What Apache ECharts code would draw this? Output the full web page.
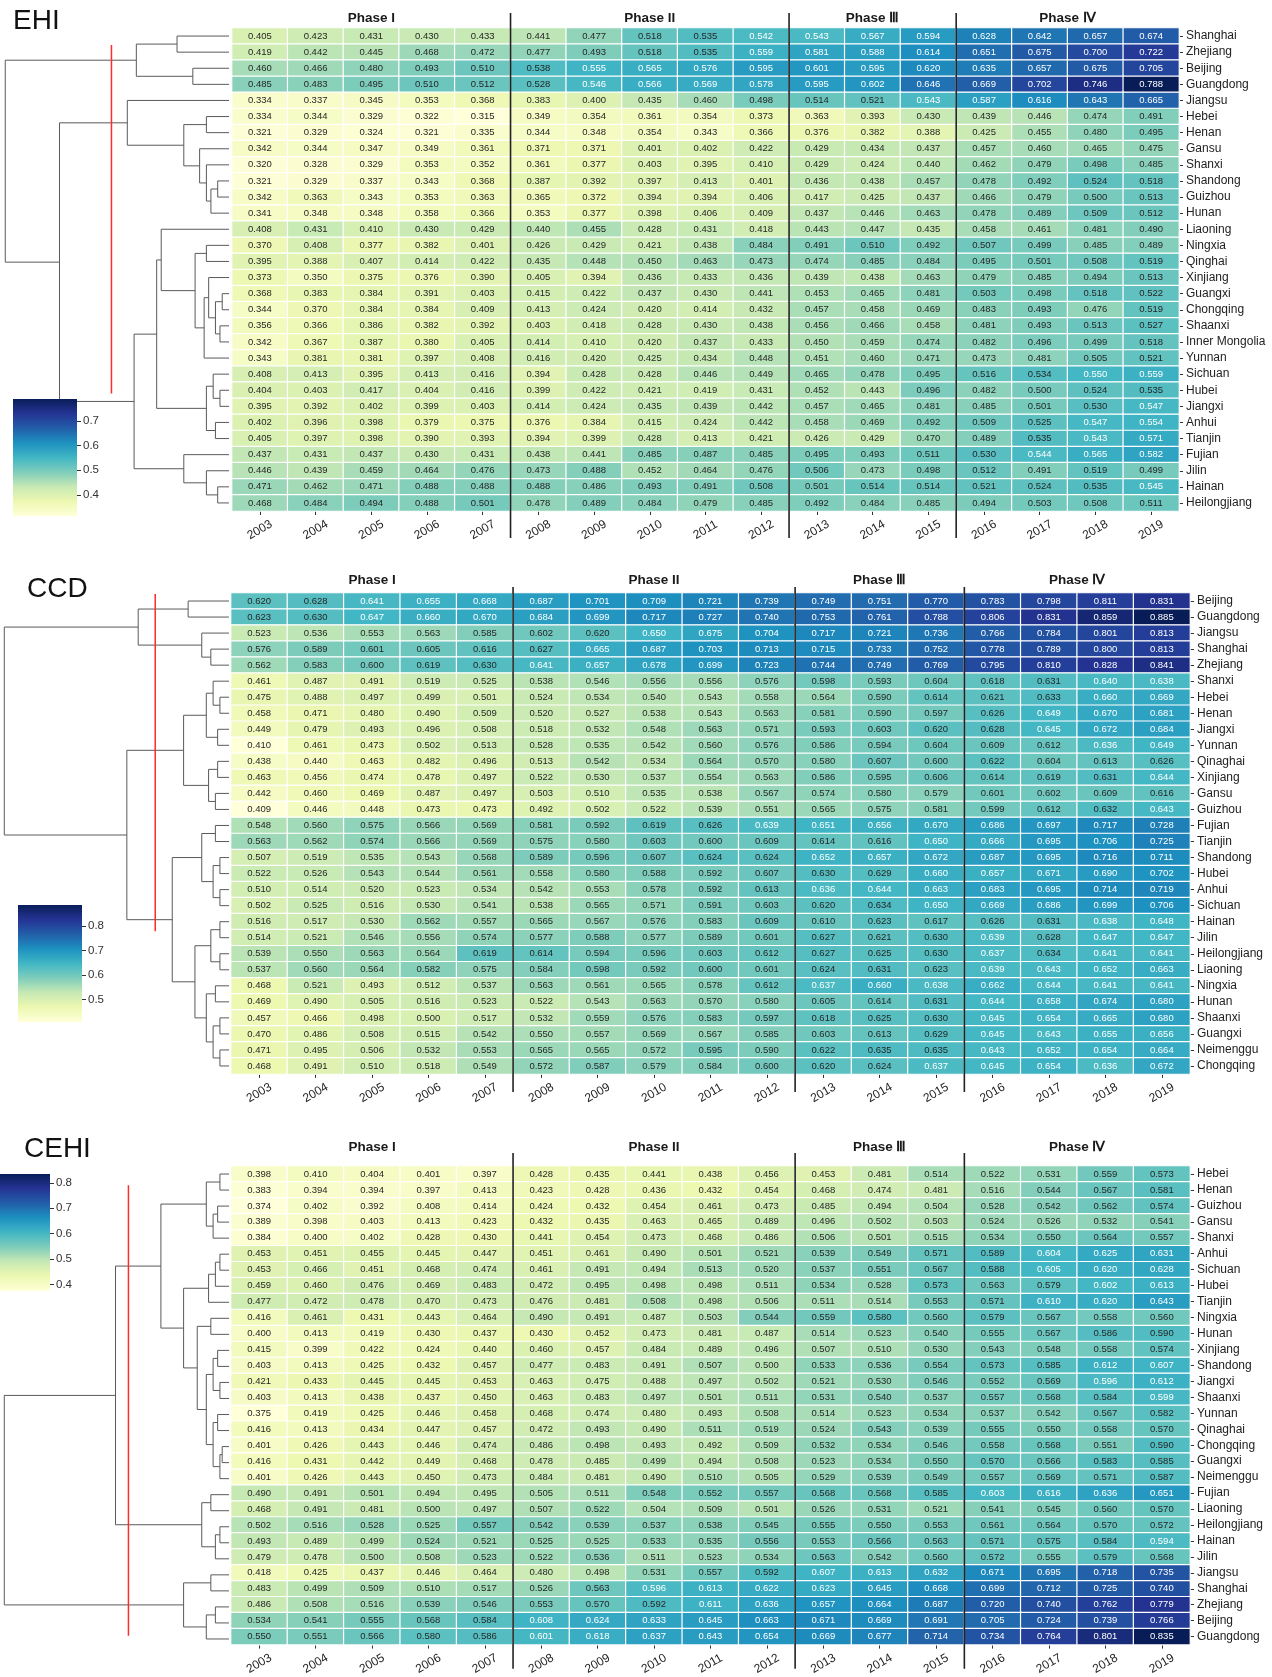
<!DOCTYPE html>
<html><head><meta charset="utf-8">
<script src="https://cdn.jsdelivr.net/npm/echarts@6/dist/echarts.min.js"></script>
<style>html,body{margin:0;padding:0;background:#fff}#c{width:1272px;height:1677px}</style>
</head><body><div id="c"></div>
<script>
// ---------------- DATA ----------------
const years = ['2003','2004','2005','2006','2007','2008','2009','2010','2011','2012','2013','2014','2015','2016','2017','2018','2019'];
const phaseNames = ['Phase I','Phase II','Phase \u2162','Phase \u2163'];
const phaseStarts = [0,5,10,13];

const ehiRegions = ['Shanghai','Zhejiang','Beijing','Guangdong','Jiangsu','Hebei','Henan','Gansu','Shanxi','Shandong','Guizhou','Hunan','Liaoning','Ningxia','Qinghai','Xinjiang','Guangxi','Chongqing','Shaanxi','Inner Mongolia','Yunnan','Sichuan','Hubei','Jiangxi','Anhui','Tianjin','Fujian','Jilin','Hainan','Heilongjiang'];
const ehiValues = [
[0.405,0.423,0.431,0.430,0.433,0.441,0.477,0.518,0.535,0.542,0.543,0.567,0.594,0.628,0.642,0.657,0.674],
[0.419,0.442,0.445,0.468,0.472,0.477,0.493,0.518,0.535,0.559,0.581,0.588,0.614,0.651,0.675,0.700,0.722],
[0.460,0.466,0.480,0.493,0.510,0.538,0.555,0.565,0.576,0.595,0.601,0.595,0.620,0.635,0.657,0.675,0.705],
[0.485,0.483,0.495,0.510,0.512,0.528,0.546,0.566,0.569,0.578,0.595,0.602,0.646,0.669,0.702,0.746,0.788],
[0.334,0.337,0.345,0.353,0.368,0.383,0.400,0.435,0.460,0.498,0.514,0.521,0.543,0.587,0.616,0.643,0.665],
[0.334,0.344,0.329,0.322,0.315,0.349,0.354,0.361,0.354,0.373,0.363,0.393,0.430,0.439,0.446,0.474,0.491],
[0.321,0.329,0.324,0.321,0.335,0.344,0.348,0.354,0.343,0.366,0.376,0.382,0.388,0.425,0.455,0.480,0.495],
[0.342,0.344,0.347,0.349,0.361,0.371,0.371,0.401,0.402,0.422,0.429,0.434,0.437,0.457,0.460,0.465,0.475],
[0.320,0.328,0.329,0.353,0.352,0.361,0.377,0.403,0.395,0.410,0.429,0.424,0.440,0.462,0.479,0.498,0.485],
[0.321,0.329,0.337,0.343,0.368,0.387,0.392,0.397,0.413,0.401,0.436,0.438,0.457,0.478,0.492,0.524,0.518],
[0.342,0.363,0.343,0.353,0.363,0.365,0.372,0.394,0.394,0.406,0.417,0.425,0.437,0.466,0.479,0.500,0.513],
[0.341,0.348,0.348,0.358,0.366,0.353,0.377,0.398,0.406,0.409,0.437,0.446,0.463,0.478,0.489,0.509,0.512],
[0.408,0.431,0.410,0.430,0.429,0.440,0.455,0.428,0.431,0.418,0.443,0.447,0.435,0.458,0.461,0.481,0.490],
[0.370,0.408,0.377,0.382,0.401,0.426,0.429,0.421,0.438,0.484,0.491,0.510,0.492,0.507,0.499,0.485,0.489],
[0.395,0.388,0.407,0.414,0.422,0.435,0.448,0.450,0.463,0.473,0.474,0.485,0.484,0.495,0.501,0.508,0.519],
[0.373,0.350,0.375,0.376,0.390,0.405,0.394,0.436,0.433,0.436,0.439,0.438,0.463,0.479,0.485,0.494,0.513],
[0.368,0.383,0.384,0.391,0.403,0.415,0.422,0.437,0.430,0.441,0.453,0.465,0.481,0.503,0.498,0.518,0.522],
[0.344,0.370,0.384,0.384,0.409,0.413,0.424,0.420,0.414,0.432,0.457,0.458,0.469,0.483,0.493,0.476,0.519],
[0.356,0.366,0.386,0.382,0.392,0.403,0.418,0.428,0.430,0.438,0.456,0.466,0.458,0.481,0.493,0.513,0.527],
[0.342,0.367,0.387,0.380,0.405,0.414,0.410,0.420,0.437,0.433,0.450,0.459,0.474,0.482,0.496,0.499,0.518],
[0.343,0.381,0.381,0.397,0.408,0.416,0.420,0.425,0.434,0.448,0.451,0.460,0.471,0.473,0.481,0.505,0.521],
[0.408,0.413,0.395,0.413,0.416,0.394,0.428,0.428,0.446,0.449,0.465,0.478,0.495,0.516,0.534,0.550,0.559],
[0.404,0.403,0.417,0.404,0.416,0.399,0.422,0.421,0.419,0.431,0.452,0.443,0.496,0.482,0.500,0.524,0.535],
[0.395,0.392,0.402,0.399,0.403,0.414,0.424,0.435,0.439,0.442,0.457,0.465,0.481,0.485,0.501,0.530,0.547],
[0.402,0.396,0.398,0.379,0.375,0.376,0.384,0.415,0.424,0.442,0.458,0.469,0.492,0.509,0.525,0.547,0.554],
[0.405,0.397,0.398,0.390,0.393,0.394,0.399,0.428,0.413,0.421,0.426,0.429,0.470,0.489,0.535,0.543,0.571],
[0.437,0.431,0.437,0.430,0.431,0.438,0.441,0.485,0.487,0.485,0.495,0.493,0.511,0.530,0.544,0.565,0.582],
[0.446,0.439,0.459,0.464,0.476,0.473,0.488,0.452,0.464,0.476,0.506,0.473,0.498,0.512,0.491,0.519,0.499],
[0.471,0.462,0.471,0.488,0.488,0.488,0.486,0.493,0.491,0.508,0.501,0.514,0.514,0.521,0.524,0.535,0.545],
[0.468,0.484,0.494,0.488,0.501,0.478,0.489,0.484,0.479,0.485,0.492,0.484,0.485,0.494,0.503,0.508,0.511]];

const ccdRegions = ['Beijing','Guangdong','Jiangsu','Shanghai','Zhejiang','Shanxi','Hebei','Henan','Jiangxi','Yunnan','Qinaghai','Xinjiang','Gansu','Guizhou','Fujian','Tianjin','Shandong','Hubei','Anhui','Sichuan','Hainan','Jilin','Heilongjiang','Liaoning','Ningxia','Hunan','Shaanxi','Guangxi','Neimenggu','Chongqing'];
const ccdValues = [
[0.620,0.628,0.641,0.655,0.668,0.687,0.701,0.709,0.721,0.739,0.749,0.751,0.770,0.783,0.798,0.811,0.831],
[0.623,0.630,0.647,0.660,0.670,0.684,0.699,0.717,0.727,0.740,0.753,0.761,0.788,0.806,0.831,0.859,0.885],
[0.523,0.536,0.553,0.563,0.585,0.602,0.620,0.650,0.675,0.704,0.717,0.721,0.736,0.766,0.784,0.801,0.813],
[0.576,0.589,0.601,0.605,0.616,0.627,0.665,0.687,0.703,0.713,0.715,0.733,0.752,0.778,0.789,0.800,0.813],
[0.562,0.583,0.600,0.619,0.630,0.641,0.657,0.678,0.699,0.723,0.744,0.749,0.769,0.795,0.810,0.828,0.841],
[0.461,0.487,0.491,0.519,0.525,0.538,0.546,0.556,0.556,0.576,0.598,0.593,0.604,0.618,0.631,0.640,0.638],
[0.475,0.488,0.497,0.499,0.501,0.524,0.534,0.540,0.543,0.558,0.564,0.590,0.614,0.621,0.633,0.660,0.669],
[0.458,0.471,0.480,0.490,0.509,0.520,0.527,0.538,0.543,0.563,0.581,0.590,0.597,0.626,0.649,0.670,0.681],
[0.449,0.479,0.493,0.496,0.508,0.518,0.532,0.548,0.563,0.571,0.593,0.603,0.620,0.628,0.645,0.672,0.684],
[0.410,0.461,0.473,0.502,0.513,0.528,0.535,0.542,0.560,0.576,0.586,0.594,0.604,0.609,0.612,0.636,0.649],
[0.438,0.440,0.463,0.482,0.496,0.513,0.542,0.534,0.564,0.570,0.580,0.607,0.600,0.622,0.604,0.613,0.626],
[0.463,0.456,0.474,0.478,0.497,0.522,0.530,0.537,0.554,0.563,0.586,0.595,0.606,0.614,0.619,0.631,0.644],
[0.442,0.460,0.469,0.487,0.497,0.503,0.510,0.535,0.538,0.567,0.574,0.580,0.579,0.601,0.602,0.609,0.616],
[0.409,0.446,0.448,0.473,0.473,0.492,0.502,0.522,0.539,0.551,0.565,0.575,0.581,0.599,0.612,0.632,0.643],
[0.548,0.560,0.575,0.566,0.569,0.581,0.592,0.619,0.626,0.639,0.651,0.656,0.670,0.686,0.697,0.717,0.728],
[0.563,0.562,0.574,0.566,0.569,0.575,0.580,0.603,0.600,0.609,0.614,0.616,0.650,0.666,0.695,0.706,0.725],
[0.507,0.519,0.535,0.543,0.568,0.589,0.596,0.607,0.624,0.624,0.652,0.657,0.672,0.687,0.695,0.716,0.711],
[0.522,0.526,0.543,0.544,0.561,0.558,0.580,0.588,0.592,0.607,0.630,0.629,0.660,0.657,0.671,0.690,0.702],
[0.510,0.514,0.520,0.523,0.534,0.542,0.553,0.578,0.592,0.613,0.636,0.644,0.663,0.683,0.695,0.714,0.719],
[0.502,0.525,0.516,0.530,0.541,0.538,0.565,0.571,0.591,0.603,0.620,0.634,0.650,0.669,0.686,0.699,0.706],
[0.516,0.517,0.530,0.562,0.557,0.565,0.567,0.576,0.583,0.609,0.610,0.623,0.617,0.626,0.631,0.638,0.648],
[0.514,0.521,0.546,0.556,0.574,0.577,0.588,0.577,0.589,0.601,0.627,0.621,0.630,0.639,0.628,0.647,0.647],
[0.539,0.550,0.563,0.564,0.619,0.614,0.594,0.596,0.603,0.612,0.627,0.625,0.630,0.637,0.634,0.641,0.641],
[0.537,0.560,0.564,0.582,0.575,0.584,0.598,0.592,0.600,0.601,0.624,0.631,0.623,0.639,0.643,0.652,0.663],
[0.468,0.521,0.493,0.512,0.537,0.563,0.561,0.565,0.578,0.612,0.637,0.660,0.638,0.662,0.644,0.641,0.641],
[0.469,0.490,0.505,0.516,0.523,0.522,0.543,0.563,0.570,0.580,0.605,0.614,0.631,0.644,0.658,0.674,0.680],
[0.457,0.466,0.498,0.500,0.517,0.532,0.559,0.576,0.583,0.597,0.618,0.625,0.630,0.645,0.654,0.665,0.680],
[0.470,0.486,0.508,0.515,0.542,0.550,0.557,0.569,0.567,0.585,0.603,0.613,0.629,0.645,0.643,0.655,0.656],
[0.471,0.495,0.506,0.532,0.553,0.565,0.565,0.572,0.595,0.590,0.622,0.635,0.635,0.643,0.652,0.654,0.664],
[0.468,0.491,0.510,0.518,0.549,0.572,0.587,0.579,0.584,0.600,0.620,0.624,0.637,0.645,0.654,0.636,0.672]];

const cehiRegions = ['Hebei','Henan','Guizhou','Gansu','Shanxi','Anhui','Sichuan','Hubei','Tianjin','Ningxia','Hunan','Xinjiang','Shandong','Jiangxi','Shaanxi','Yunnan','Qinaghai','Chongqing','Guangxi','Neimenggu','Fujian','Liaoning','Heilongjiang','Hainan','Jilin','Jiangsu','Shanghai','Zhejiang','Beijing','Guangdong'];
const cehiValues = [
[0.398,0.410,0.404,0.401,0.397,0.428,0.435,0.441,0.438,0.456,0.453,0.481,0.514,0.522,0.531,0.559,0.573],
[0.383,0.394,0.394,0.397,0.413,0.423,0.428,0.436,0.432,0.454,0.468,0.474,0.481,0.516,0.544,0.567,0.581],
[0.374,0.402,0.392,0.408,0.414,0.424,0.432,0.454,0.461,0.473,0.485,0.494,0.504,0.528,0.542,0.562,0.574],
[0.389,0.398,0.403,0.413,0.423,0.432,0.435,0.463,0.465,0.489,0.496,0.502,0.503,0.524,0.526,0.532,0.541],
[0.384,0.400,0.402,0.428,0.430,0.441,0.454,0.473,0.468,0.486,0.506,0.501,0.515,0.534,0.550,0.564,0.557],
[0.453,0.451,0.455,0.445,0.447,0.451,0.461,0.490,0.501,0.521,0.539,0.549,0.571,0.589,0.604,0.625,0.631],
[0.453,0.466,0.451,0.468,0.474,0.461,0.491,0.494,0.513,0.520,0.537,0.551,0.567,0.588,0.605,0.620,0.628],
[0.459,0.460,0.476,0.469,0.483,0.472,0.495,0.498,0.498,0.511,0.534,0.528,0.573,0.563,0.579,0.602,0.613],
[0.477,0.472,0.478,0.470,0.473,0.476,0.481,0.508,0.498,0.506,0.511,0.514,0.553,0.571,0.610,0.620,0.643],
[0.416,0.461,0.431,0.443,0.464,0.490,0.491,0.487,0.503,0.544,0.559,0.580,0.560,0.579,0.567,0.558,0.560],
[0.400,0.413,0.419,0.430,0.437,0.430,0.452,0.473,0.481,0.487,0.514,0.523,0.540,0.555,0.567,0.586,0.590],
[0.415,0.399,0.422,0.424,0.440,0.460,0.457,0.484,0.489,0.496,0.507,0.510,0.530,0.543,0.548,0.558,0.574],
[0.403,0.413,0.425,0.432,0.457,0.477,0.483,0.491,0.507,0.500,0.533,0.536,0.554,0.573,0.585,0.612,0.607],
[0.421,0.433,0.445,0.445,0.453,0.463,0.475,0.488,0.497,0.502,0.521,0.530,0.546,0.552,0.569,0.596,0.612],
[0.403,0.413,0.438,0.437,0.450,0.463,0.483,0.497,0.501,0.511,0.531,0.540,0.537,0.557,0.568,0.584,0.599],
[0.375,0.419,0.425,0.446,0.458,0.468,0.474,0.480,0.493,0.508,0.514,0.523,0.534,0.537,0.542,0.567,0.582],
[0.416,0.413,0.434,0.447,0.457,0.472,0.493,0.490,0.511,0.519,0.524,0.543,0.539,0.555,0.550,0.558,0.570],
[0.401,0.426,0.443,0.446,0.474,0.486,0.498,0.493,0.492,0.509,0.532,0.534,0.546,0.558,0.568,0.551,0.590],
[0.416,0.431,0.442,0.449,0.468,0.478,0.485,0.499,0.494,0.508,0.523,0.534,0.550,0.570,0.566,0.583,0.585],
[0.401,0.426,0.443,0.450,0.473,0.484,0.481,0.490,0.510,0.505,0.529,0.539,0.549,0.557,0.569,0.571,0.587],
[0.490,0.491,0.501,0.494,0.495,0.505,0.511,0.548,0.552,0.557,0.568,0.568,0.585,0.603,0.616,0.636,0.651],
[0.468,0.491,0.481,0.500,0.497,0.507,0.522,0.504,0.509,0.501,0.526,0.531,0.521,0.541,0.545,0.560,0.570],
[0.502,0.516,0.528,0.525,0.557,0.542,0.539,0.537,0.538,0.545,0.555,0.550,0.553,0.561,0.564,0.570,0.572],
[0.493,0.489,0.499,0.524,0.521,0.525,0.525,0.533,0.535,0.556,0.553,0.566,0.563,0.571,0.575,0.584,0.594],
[0.479,0.478,0.500,0.508,0.523,0.522,0.536,0.511,0.523,0.534,0.563,0.542,0.560,0.572,0.555,0.579,0.568],
[0.418,0.425,0.437,0.446,0.464,0.480,0.498,0.531,0.557,0.592,0.607,0.613,0.632,0.671,0.695,0.718,0.735],
[0.483,0.499,0.509,0.510,0.517,0.526,0.563,0.596,0.613,0.622,0.623,0.645,0.668,0.699,0.712,0.725,0.740],
[0.486,0.508,0.516,0.539,0.546,0.553,0.570,0.592,0.611,0.636,0.657,0.664,0.687,0.720,0.740,0.762,0.779],
[0.534,0.541,0.555,0.568,0.584,0.608,0.624,0.633,0.645,0.663,0.671,0.669,0.691,0.705,0.724,0.739,0.766],
[0.550,0.551,0.566,0.580,0.586,0.601,0.618,0.637,0.643,0.654,0.669,0.677,0.714,0.734,0.764,0.801,0.835]];

// Dendrogram linkages: [childA, childB, distance]; numbers = leaf rows, 'mK' = K-th merge
const ehiTree = [
[0,1,23],[2,3,16],['m0','m1',41],
[9,10,5],['m3',11,8],[8,'m4',10],[7,'m5',13],[5,6,10],['m7','m6',20],[4,'m8',45],
[16,17,3],[18,19,4],['m10','m11',6],[15,'m12',9],['m13',20,11],[13,14,10],['m15','m14',15],[12,'m16',30],
[22,23,4],[21,'m18',7],[24,25,6],['m19','m20',10],['m17','m21',32],
[28,29,5],[27,'m23',10],[26,'m24',20],['m22','m25',42],['m9','m26',75],['m2','m27',99]];
const ccdTree = [
[0,1,18],[3,4,8],[2,'m1',12],['m0','m2',40],
[6,7,4],[5,'m4',7],[8,9,5],['m5','m6',10],[10,11,5],[12,13,6],['m8','m9',9],['m7','m10',20],
[14,15,6],[16,17,4],[18,19,4],['m13','m14',7],['m12','m15',12],
[20,21,4],[22,23,4],['m17','m18',8],
[24,25,6],[26,27,4],[28,29,4],['m21','m22',7],['m20','m23',10],
['m19','m24',15],['m16','m25',25],['m11','m26',45],['m3','m27',99]];
const cehiTree = [
[0,1,4],[2,3,5],['m1',4,7],['m0','m2',10],
[5,6,4],['m4',7,6],['m5',8,9],
[9,10,8],[11,12,5],[13,14,4],['m8','m9',7],[15,16,5],[17,18,3],['m12',19,4],['m11','m13',7],['m10','m14',10],['m7','m15',14],
['m6','m16',20],['m3','m17',30],
[20,21,8],[22,23,4],['m20',24,6],['m19','m21',12],['m18','m22',50],
[25,26,8],[27,28,6],['m25',29,10],['m24','m26',20],['m23','m27',99]];
// red cut line: [distance, fromRow, toRow]
const ehiCut = [52, 1.05, 22.7];
const ccdCut = [32.5, 0.06, 21.1];
const cehiCut = [44.3, 1.2, 29.3];
const ehiTicks = [0.4,0.5,0.6,0.7];
const ccdTicks = [0.5,0.6,0.7,0.8];
const cehiTicks = [0.4,0.5,0.6,0.7,0.8];

// ---------------- LAYOUT ----------------
const YlGnBu = ['#ffffd9','#edf8b1','#c7e9b4','#7fcdbb','#41b6c4','#1d91c0','#225ea8','#253494','#081d58'];
const FONT = '"Liberation Sans", Arial, Helvetica, sans-serif';
const panels = [
 {title:'EHI', tx:13, ty:7, regions:ehiRegions, values:ehiValues, tree:ehiTree, cut:ehiCut, ticks:ehiTicks,
  heat:{left:232, top:28, width:947, height:483}, dendro:{left:3, top:28, width:226, height:483},
  cbar:{left:13, top:399, width:64, height:117}, phaseY:10, lineTop:15, lineBot:27},
 {title:'CCD', tx:27, ty:575, regions:ccdRegions, values:ccdValues, tree:ccdTree, cut:ccdCut, ticks:ccdTicks,
  heat:{left:231, top:593, width:959, height:481}, dendro:{left:2, top:593, width:227, height:481},
  cbar:{left:18, top:905, width:64, height:117}, phaseY:13, lineTop:6, lineBot:18},
 {title:'CEHI', tx:24, ty:1135, regions:cehiRegions, values:cehiValues, tree:cehiTree, cut:cehiCut, ticks:cehiTicks,
  heat:{left:231, top:1166, width:959, height:481}, dendro:{left:2, top:1166, width:227, height:481},
  cbar:{left:0, top:1174, width:50, height:117}, phaseY:19, lineTop:13, lineBot:24}
];

function dendroItems(tree){
  const pos = {}, hts = {};
  const node = k => typeof k === 'number' ? {y:k+0.5, h:0} : {y:pos[k], h:hts[k]};
  return tree.map((m,i)=>{
    const a = node(m[0]), b = node(m[1]);
    pos['m'+i] = (a.y+b.y)/2; hts['m'+i] = m[2];
    return [a.h, a.y, b.h, b.y, m[2]];
  });
}

const grids = [], xAxes = [], yAxes = [], series = [], visualMaps = [], graphics = [];
panels.forEach((p, pi) => {
  const flat = p.values.flat();
  const vmin = Math.min(...flat), vmax = Math.max(...flat);
  const gH = grids.length;
  grids.push(p.heat, p.dendro, p.cbar);
  xAxes.push({gridIndex:gH, type:'category', data:years, position:'bottom',
    axisLine:{show:false}, axisTick:{show:true, interval:0, alignWithLabel:true, length:4, lineStyle:{color:'#333'}},
    axisLabel:{interval:0, rotate:30, fontSize:12, color:'#222', fontFamily:FONT, margin:19, align:'center', verticalAlign:'middle'}});
  yAxes.push({gridIndex:gH, type:'category', data:p.regions, inverse:true, position:'right',
    axisLine:{show:false}, axisTick:{show:true, interval:0, alignWithLabel:true, length:4, lineStyle:{color:'#333'}},
    axisLabel:{interval:0, fontSize:12, color:'#222', fontFamily:FONT, margin:7}});
  xAxes.push({gridIndex:gH+1, type:'value', min:0, max:100, inverse:true, show:false});
  yAxes.push({gridIndex:gH+1, type:'value', min:0, max:30, inverse:true, show:false});
  xAxes.push({gridIndex:gH+2, type:'category', data:['c'], show:false});
  yAxes.push({gridIndex:gH+2, type:'value', min:vmin, max:vmax, position:'right',
    splitLine:{show:false}, axisLine:{show:false},
    axisTick:{show:true, length:4, customValues:p.ticks, lineStyle:{color:'#333'}},
    axisLabel:{show:true, fontSize:11.5, color:'#333', fontFamily:FONT, margin:6, customValues:p.ticks,
      formatter:v=>(+v).toFixed(1)}});

  const data = [];
  p.values.forEach((row, r) => row.forEach((v, c) => {
    const t = (v - vmin) / (vmax - vmin);
    data.push({value:[c, r, v], label:{color: t > 0.475 ? '#ffffff' : '#262626'}});
  }));
  const sHeat = series.length;
  series.push({type:'heatmap', xAxisIndex:gH, yAxisIndex:gH, data,
    itemStyle:{borderColor:'#ffffff', borderWidth:1.2},
    label:{show:true, fontSize:9.5, fontFamily:FONT, formatter:pr=>pr.value[2].toFixed(3)},
    emphasis:{disabled:true}, animation:false});
  visualMaps.push({show:false, seriesIndex:sHeat, min:vmin, max:vmax, dimension:2, inRange:{color:YlGnBu}});

  series.push({type:'custom', xAxisIndex:gH, yAxisIndex:gH, clip:false, silent:true, animation:false,
    data: phaseStarts.map((s,i)=>[s, i]),
    renderItem:(params, api)=>{
      const cs = params.coordSys;
      const s = api.value(0), i = api.value(1);
      const bw = api.size([1,0])[0];
      const end = i < phaseStarts.length-1 ? phaseStarts[i+1]-1 : years.length-1;
      const xs = api.coord([s,0])[0] - bw/2;
      const xe = api.coord([end,0])[0] + bw/2;
      const children = [{type:'text', style:{text:phaseNames[i], x:(xs+xe)/2, y:cs.y - p.phaseY,
        align:'center', verticalAlign:'middle', font:'bold 13.5px '+FONT, fill:'#1a1a1a'}}];
      if (s > 0) children.push({type:'line', shape:{x1:xs, y1:cs.y - p.lineTop, x2:xs, y2:cs.y+cs.height+p.lineBot},
        style:{stroke:'#222', lineWidth:1.6}});
      return {type:'group', children};
    }});

  series.push({type:'custom', xAxisIndex:gH+1, yAxisIndex:gH+1, silent:true, animation:false, clip:false,
    data: dendroItems(p.tree), encode:{x:[0,2,4], y:[1,3]},
    renderItem:(params, api)=>{
      const pts = [api.coord([api.value(0), api.value(1)]), api.coord([api.value(4), api.value(1)]),
                   api.coord([api.value(4), api.value(3)]), api.coord([api.value(2), api.value(3)])];
      return {type:'polyline', shape:{points:pts}, style:{stroke:'#5a5a5a', lineWidth:1, fill:null}};
    }});
  series.push({type:'custom', xAxisIndex:gH+1, yAxisIndex:gH+1, silent:true, animation:false, clip:false,
    data:[p.cut], encode:{x:[0], y:[1,2]},
    renderItem:(params, api)=>{
      const a = api.coord([api.value(0), api.value(1)]), b = api.coord([api.value(0), api.value(2)]);
      return {type:'line', shape:{x1:a[0], y1:a[1], x2:b[0], y2:b[1]}, style:{stroke:'#ff2a2a', lineWidth:1.5}};
    }});
  series.push({type:'custom', xAxisIndex:gH+2, yAxisIndex:gH+2, silent:true, animation:false,
    data:[[0, vmin, vmax]],
    renderItem:(params, api)=>{
      const cs = params.coordSys;
      const stops = YlGnBu.slice().reverse().map((c,i)=>({offset:i/(YlGnBu.length-1), color:c}));
      return {type:'rect', shape:{x:cs.x, y:cs.y, width:cs.width, height:cs.height},
        style:{fill:new echarts.graphic.LinearGradient(0,0,0,1,stops)}};
    }});
  graphics.push({type:'text', left:p.tx, top:p.ty, style:{text:p.title, font:'28px '+FONT, fill:'#111'}});
});

const chart = echarts.init(document.getElementById('c'), null, {renderer:'canvas'});
chart.setOption({backgroundColor:'#ffffff', animation:false, grid:grids, xAxis:xAxes, yAxis:yAxes,
  series, visualMap:visualMaps, graphic:graphics});
</script></body></html>
